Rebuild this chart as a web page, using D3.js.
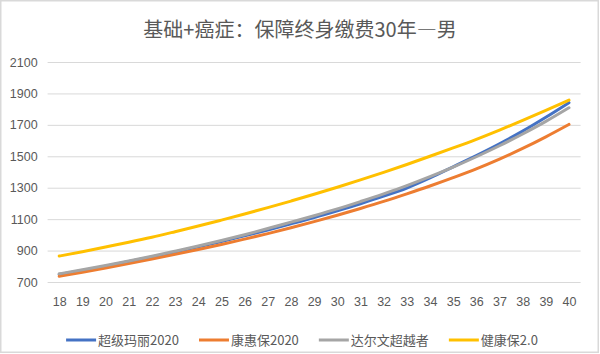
<!DOCTYPE html>
<html lang="zh">
<head>
    <meta charset="UTF-8">
    <title>基础+癌症：保障终身缴费30年—男</title>
    <script src="https://cdn.jsdelivr.net/npm/d3@7"></script>
    <style>
        body{ margin:0; background:#fff; }
        svg{ display:block; font-family:"Noto Sans CJK SC","Noto Sans",sans-serif; }
        .title{ font-size:20px; fill:#595959; }
        .tick text{ font-size:12.5px; fill:#595959; }
        .legend text{ font-size:13px; fill:#595959; }
    </style>
</head>
<body>
<svg width="600" height="354"></svg>
<script>
    // ages on the x axis
    const ages = d3.range(18, 41);
    const yTicks = [700, 900, 1100, 1300, 1500, 1700, 1900, 2100];

    // yearly premium
    const chaojiMali = [748, 774, 801, 830, 860, 891, 924, 958, 994, 1031, 1070, 1110, 1153, 1198, 1246, 1298, 1362, 1433, 1505, 1580, 1660, 1748, 1841];
    const kanghuibao = [736, 762, 789, 817, 846, 876, 907, 939, 973, 1008, 1045, 1084, 1125, 1168, 1213, 1261, 1311, 1364, 1420, 1482, 1550, 1624, 1703];
    const darwin = [752, 778, 805, 834, 864, 896, 929, 964, 1001, 1040, 1081, 1122, 1165, 1212, 1261, 1313, 1370, 1431, 1497, 1567, 1642, 1722, 1809];
    const jiankangbao = [865, 893, 923, 953, 985, 1020, 1056, 1094, 1133, 1173, 1215, 1258, 1303, 1350, 1398, 1448, 1500, 1553, 1608, 1667, 1728, 1792, 1858];

    const seriesNames = ["超级玛丽2020", "康惠保2020", "达尔文超越者", "健康保2.0"];
    const seriesValues = [chaojiMali, kanghuibao, darwin, jiankangbao];
    const colors = ["#4472C4", "#ED7D31", "#A5A5A5", "#FFC000"];

    const svg = d3.select("svg");

    // chart border
    svg.append("rect")
        .attr("x", 0.75).attr("y", 0.75)
        .attr("width", 597.5).attr("height", 351.5)
        .attr("fill", "#fff")
        .attr("stroke", "#d9d9d9")
        .attr("stroke-width", 1.5);

    svg.append("text")
        .attr("class", "title")
        .attr("x", 300).attr("y", 37)
        .attr("text-anchor", "middle")
        .text("基础+癌症：保障终身缴费30年—男");

    const plotLeft = 47.6, plotRight = 580.6, plotTop = 62, plotBottom = 282;

    const x = d3.scalePoint().domain(ages).range([plotLeft, plotRight]).padding(0.5);
    const y = d3.scaleLinear().domain([700, 2100]).range([plotBottom, plotTop]);

    // y axis + gridlines
    const yAxis = svg.append("g")
        .attr("transform", `translate(${plotLeft},0)`)
        .call(d3.axisLeft(y).tickValues(yTicks).tickFormat(d3.format("d"))
            .tickSize(-(plotRight - plotLeft)).tickPadding(10));
    yAxis.select(".domain").remove();
    yAxis.selectAll(".tick line").attr("stroke", "#d9d9d9").attr("stroke-width", 1);

    // x axis
    const xAxis = svg.append("g")
        .attr("transform", `translate(0,${plotBottom})`)
        .call(d3.axisBottom(x).tickSize(0).tickPadding(15));
    xAxis.select(".domain").remove();

    const line = d3.line()
        .x((d, i) => x(ages[i]))
        .y(d => y(d))
        .curve(d3.curveMonotoneX);

    svg.append("g").selectAll("path")
        .data(seriesValues)
        .join("path")
        .attr("d", line)
        .attr("fill", "none")
        .attr("stroke", (d, i) => colors[i])
        .attr("stroke-width", 3)
        .attr("stroke-linecap", "round");

    // legend, laid out from measured text widths
    const legend = svg.append("g").attr("class", "legend");
    const items = legend.selectAll("g")
        .data(seriesNames)
        .join("g");
    items.append("line")
        .attr("x1", 0).attr("x2", 30)
        .attr("y1", 0).attr("y2", 0)
        .attr("stroke", (d, i) => colors[i])
        .attr("stroke-width", 3);
    items.append("text")
        .attr("x", 32).attr("dy", "0.35em")
        .text(d => d);

    let offset = 0;
    items.each(function () {
        const w = 32 + d3.select(this).select("text").node().getComputedTextLength();
        d3.select(this).attr("transform", `translate(${offset},0)`);
        offset += w + 20;
    });
    const total = offset - 20;
    legend.attr("transform", `translate(${302 - total / 2},340)`);
</script>
</body>
</html>
